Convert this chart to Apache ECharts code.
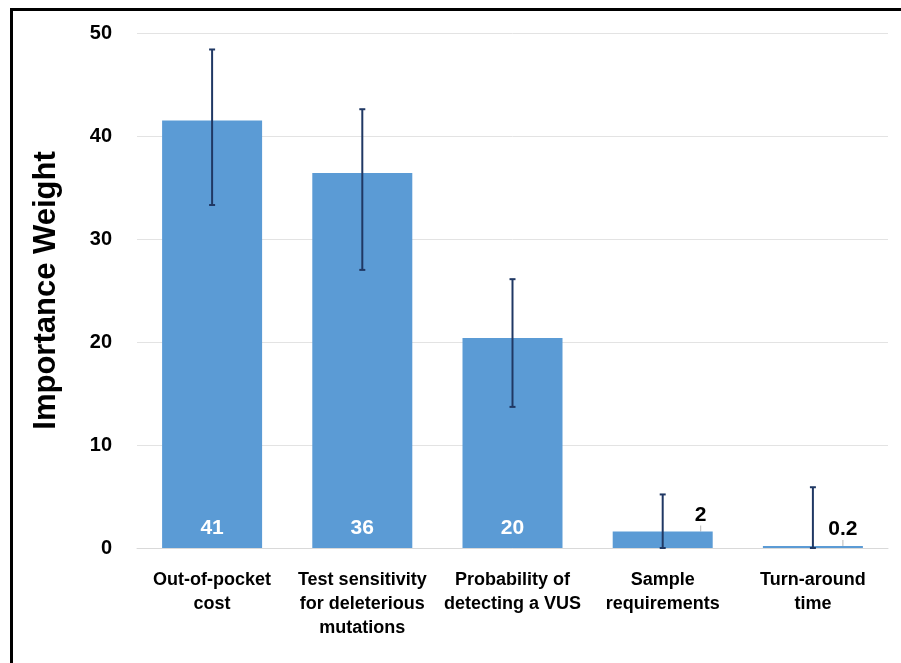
<!DOCTYPE html>
<html lang="en">
<head>
    <meta charset="UTF-8">
    <script src="https://cdn.jsdelivr.net/npm/echarts@6/dist/echarts.min.js"></script>
    <title>Importance Weight</title>
    <style>
        *{
            margin: 0;
            padding: 0;
        }
        #chart{
            width: 901px;
            height: 663px;
        }
    </style>
</head>
<body>
    <div id="chart"></div>
</body>
<script>
    // data
    var categories = ['Out-of-pocket\ncost', 'Test sensitivity\nfor deleterious\nmutations', 'Probability of\ndetecting a VUS', 'Sample\nrequirements', 'Turn-around\ntime'];
    var weights = [41.5, 36.4, 20.4, 1.6, 0.2];
    var barLabels = ['41', '36', '20', '2', '0.2'];
    var errLow = [33.3, 27.0, 13.7, 0, 0];
    var errHigh = [48.4, 42.6, 26.1, 5.2, 5.9];
    var yTicks = [0, 10, 20, 30, 40, 50];

    var font = '"Liberation Sans Narrow", "Arial Narrow", "Liberation Sans", Arial, sans-serif';
    var chart = echarts.init(document.getElementById('chart'));

    var errData = categories.map(function (c, i) {
        return [i, errLow[i], errHigh[i]];
    });

    var option = {
        backgroundColor: '#fff',
        animation: false,
        grid: {
            left: 137,
            right: 13,
            top: 33,
            bottom: 115
        },
        // frame of the slide (top and left edges only)
        graphic: [
            {type: 'rect', shape: {x: 10, y: 8, width: 891, height: 3}, style: {fill: '#000'}},
            {type: 'rect', shape: {x: 10, y: 8, width: 3, height: 655}, style: {fill: '#000'}}
        ],
        xAxis: {
            type: 'category',
            data: categories,
            axisTick: {show: false},
            axisLine: {lineStyle: {color: '#d9d9d9', width: 1}},
            axisLabel: {
                interval: 0,
                margin: 20,
                color: '#000',
                fontFamily: font,
                fontWeight: 'bold',
                fontSize: 18,
                lineHeight: 24
            }
        },
        yAxis: {
            type: 'value',
            min: yTicks[0],
            max: yTicks[yTicks.length - 1],
            interval: 10,
            name: 'Importance Weight',
            nameLocation: 'middle',
            nameGap: 75,
            nameTextStyle: {
                color: '#000',
                fontFamily: font,
                fontWeight: 'bold',
                fontSize: 31
            },
            axisLine: {show: false},
            axisTick: {show: false},
            splitLine: {lineStyle: {color: '#e3e3e3', width: 1}},
            axisLabel: {
                margin: 25,
                color: '#000',
                fontFamily: font,
                fontWeight: 'bold',
                fontSize: 20
            }
        },
        series: [
            {
                type: 'bar',
                data: weights.map(function (v, i) {
                    var item = {value: v};
                    if (i >= 3) {
                        item.label = {
                            position: 'top',
                            color: '#000',
                            distance: 2
                        };
                        item.labelLine = {show: true, lineStyle: {color: '#b8b8b8', width: 1}};
                    }
                    return item;
                }),
                barWidth: 100,
                itemStyle: {color: '#5b9bd5'},
                label: {
                    show: true,
                    position: 'insideBottom',
                    distance: 9,
                    color: '#fff',
                    fontFamily: font,
                    fontWeight: 'bold',
                    fontSize: 21,
                    formatter: function (p) { return barLabels[p.dataIndex]; }
                },
                labelLayout: function (p) {
                    if (p.dataIndex === 3) return {dx: 38, dy: -4};
                    if (p.dataIndex === 4) return {dx: 30, dy: -4};
                    return {};
                },
                z: 2
            },
            {
                type: 'custom',
                data: errData,
                z: 5,
                renderItem: function (params, api) {
                    var x = api.value(0);
                    var lo = api.coord([x, api.value(1)]);
                    var hi = api.coord([x, api.value(2)]);
                    var cap = 3;
                    var style = {stroke: '#203864', lineWidth: 2};
                    return {
                        type: 'group',
                        children: [
                            {type: 'line', shape: {x1: lo[0], y1: lo[1], x2: hi[0], y2: hi[1]}, style: style},
                            {type: 'line', shape: {x1: lo[0] - cap, y1: lo[1], x2: lo[0] + cap, y2: lo[1]}, style: style},
                            {type: 'line', shape: {x1: hi[0] - cap, y1: hi[1], x2: hi[0] + cap, y2: hi[1]}, style: style}
                        ]
                    };
                }
            }
        ]
    };

    chart.setOption(option);
</script>
</html>
